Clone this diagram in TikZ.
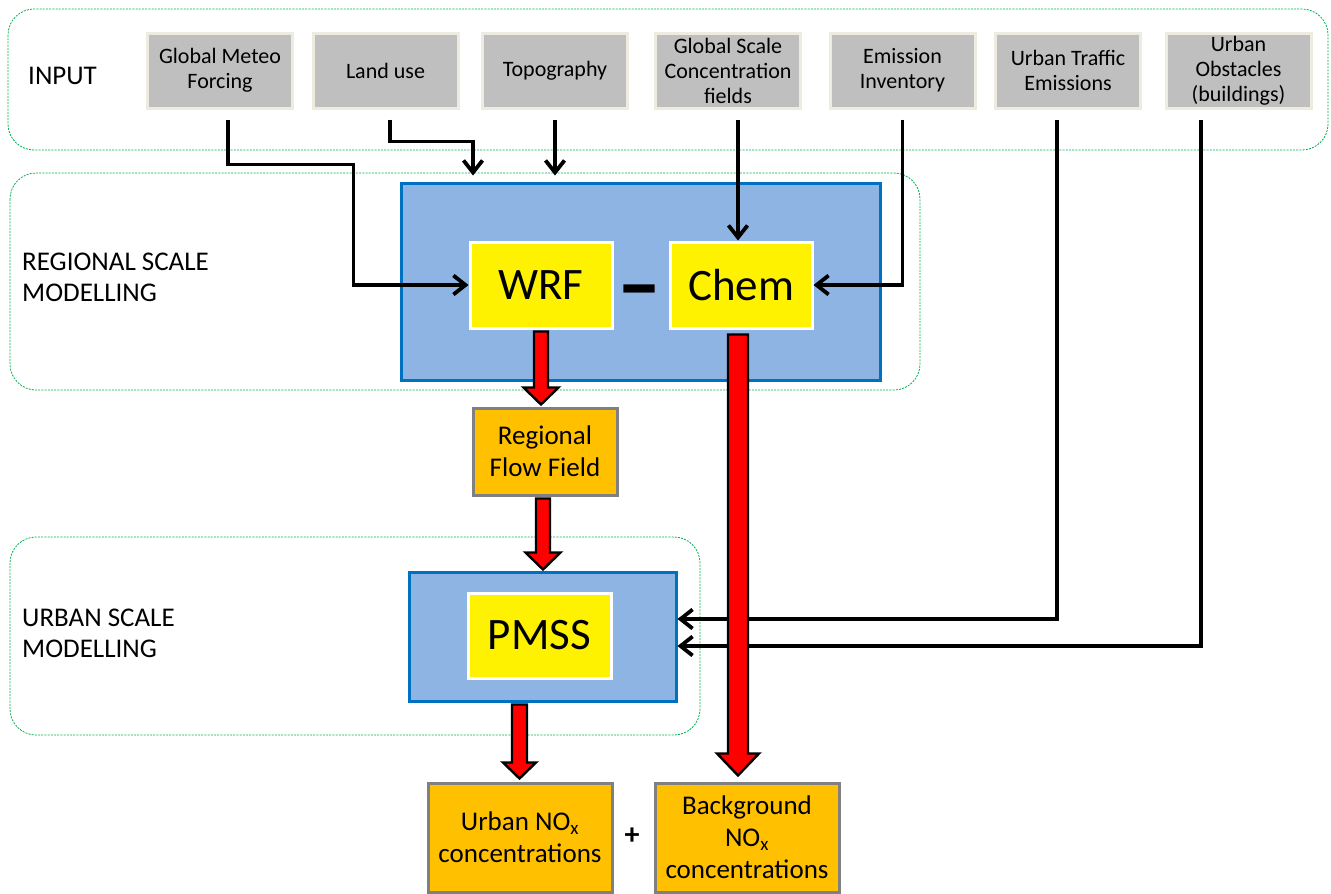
\documentclass[tikz,border=0pt]{standalone}
\usepackage{fontspec}
\setmainfont{Carlito}
\usetikzlibrary{arrows.meta,calc}
\definecolor{gfill}{HTML}{BFBFBF}
\definecolor{gline}{HTML}{EEECE1}
\definecolor{bfill}{HTML}{8EB4E3}
\definecolor{bline}{HTML}{0070C0}
\definecolor{ofill}{HTML}{FFC000}
\definecolor{oline}{HTML}{808080}
\definecolor{dgreen}{HTML}{00B050}
\newcommand\fatarrow[5]{\filldraw[fatarr] let \p1=(#1), \p2=(#2) in
  (\x1-#3,\y1) -- (\x1-#3,\y2+#5) -- (\x1-#4,\y2+#5) -- (\x1,\y2) --
  (\x1+#4,\y2+#5) -- (\x1+#3,\y2+#5) -- (\x1+#3,\y1) -- cycle;}
\begin{document}
\begin{tikzpicture}[x=1pt,y=-1pt,
  region/.style={draw=dgreen, line width=0.8pt, dash pattern=on 2pt off 1.2pt, rounded corners=26pt},
  reglabel/.style={font=\fontsize{27}{31}\selectfont, align=left, anchor=west, inner sep=0pt},
  inbox/.style={fill=gfill, draw=gline, line width=3pt, minimum width=145pt, minimum height=75pt,
    align=center, inner sep=0pt, font=\fontsize{22}{25}\selectfont},
  bluebox/.style={fill=bfill, draw=bline, line width=3pt, inner sep=0pt},
  modelbox/.style={fill=yellow, draw=white, line width=3pt, minimum width=142pt, minimum height=86pt,
    inner sep=0pt, font=\fontsize{45}{50}\selectfont},
  outbox/.style={fill=ofill, draw=oline, line width=3pt, inner sep=0pt, align=center,
    font=\fontsize{27}{32}\selectfont},
  conn/.style={draw=black, line width=3.8pt, -{Straight Barb[length=12pt,width=19pt]}},
  fatarr/.style={fill=red, draw=black, line width=2.4pt, line join=miter},
]
\useasboundingbox (0,0) rectangle (1331,894);
% regions
\draw[region] (8,9) rectangle (1328,150);
\draw[region] (10,173) rectangle (920,390);
\draw[region] (10,537) rectangle (700,735);
\node[reglabel] (lin) at (28,76) {INPUT};
\node[reglabel] (lreg) at (22,277) {REGIONAL SCALE\\MODELLING};
\node[reglabel] (lurb) at (22,633) {URBAN SCALE\\MODELLING};
% input boxes
\node[inbox] (gmf) at (220,70.5) {Global Meteo\\Forcing};
\node[inbox] (land) at (385.5,70.5) {Land use};
\node[inbox] (topo) at (555,70.5) {Topography};
\node[inbox] (gsc) at (728,70.5) {Global Scale\\Concentration\\fields};
\node[inbox] (emis) at (902.5,70.5) {Emission\\Inventory};
\node[inbox] (utr) at (1068,70.5) {Urban Traffic\\Emissions};
\node[inbox] (uob) at (1238.5,70.5) {Urban\\Obstacles\\(buildings)};
% model boxes
\node[bluebox, minimum width=479pt, minimum height=197pt] (reg) at (640.5,281.5) {};
\node[modelbox] (wrf) at (541,285) {WRF};
\node[modelbox] (chem) at (741,285) {Chem};
\node[inner sep=0pt, anchor=base, font=\fontsize{52}{52}\selectfont\bfseries] (dash) at (640,315) {\scalebox{1.7}[1.8]{–}};
\node[outbox, minimum width=144pt, minimum height=87pt] (rff) at (545,451.5) {Regional\\Flow Field};
\node[bluebox, minimum width=267pt, minimum height=129pt] (pbox) at (542.5,636.5) {};
\node[modelbox, minimum width=143pt, minimum height=85pt] (pmss) at (539.5,635.5) {PMSS};
\node[outbox, minimum width=184pt, minimum height=109pt] (urb) at (520,837.5) {Urban NO\textsubscript{x}\\concentrations};
\node[outbox, minimum width=184pt, minimum height=109pt] (bg) at (747,837.5) {Background\\NO\textsubscript{x}\\concentrations};
\node[inner sep=0pt, font=\fontsize{30}{30}\selectfont\bfseries] (plus) at (632,836) {+};
% black connectors
\draw[conn] ([xshift=8pt,yshift=-10pt]gmf.south) -- ++(0,45) -| ([xshift=-115pt]wrf.west) -- (wrf.west);
\draw[conn] ([xshift=4.5pt,yshift=-10pt]land.south) -- ++(0,22) -| ([xshift=-167.5pt,yshift=6pt]reg.north);
\draw[conn] ([yshift=-10pt]topo.south) -- ([xshift=-85.5pt,yshift=6pt]reg.north);
\draw[conn] ([xshift=10pt,yshift=-10pt]gsc.south) -- ([xshift=-3pt]chem.north);
\draw[conn] ([yshift=-10pt]emis.south) |- (chem.east);
\draw[conn] ([xshift=-11pt,yshift=-10pt]utr.south) |- ([yshift=17.5pt]pbox.east);
\draw[conn] ([xshift=-37.5pt,yshift=-10pt]uob.south) |- ([yshift=-9.5pt]pbox.east);
% fat red arrows
\fatarrow{[yshift=-2pt]wrf.south}{[yshift=2pt]rff.north}{7pt}{17.5pt}{17pt}
\fatarrow{[xshift=-2pt,yshift=-2pt]rff.south}{[yshift=1pt]pbox.north}{7pt}{17.5pt}{17pt}
\fatarrow{[xshift=-3pt,yshift=-5pt]chem.south}{[xshift=-9pt,yshift=6pt]bg.north}{10pt}{21pt}{22pt}
\fatarrow{[xshift=-23pt,yshift=-2pt]pbox.south}{[yshift=3pt]urb.north}{7.5pt}{16.5pt}{16pt}
\end{tikzpicture}
\end{document}
